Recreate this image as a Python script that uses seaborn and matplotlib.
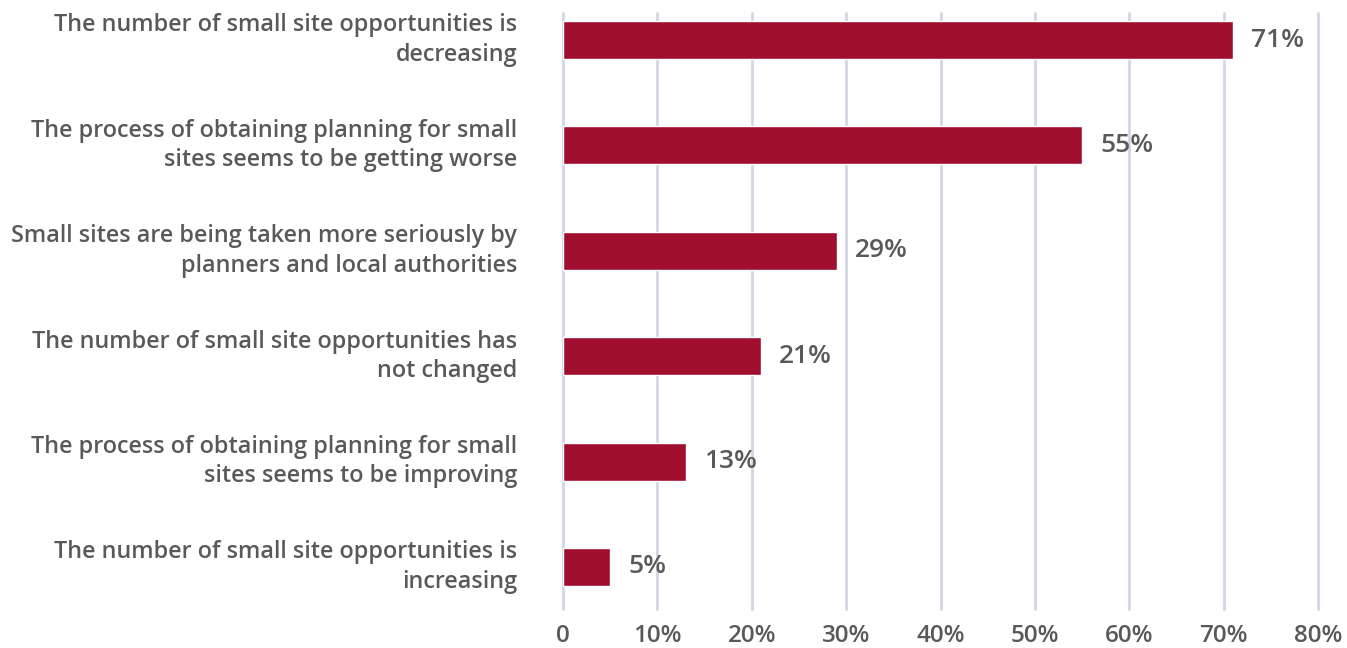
import matplotlib
matplotlib.use("Agg")
import matplotlib.pyplot as plt
import seaborn as sns
import pandas as pd
from matplotlib.ticker import FuncFormatter

categories = [
    "The number of small site opportunities is\ndecreasing",
    "The process of obtaining planning for small\nsites seems to be getting worse",
    "Small sites are being taken more seriously by\nplanners and local authorities",
    "The number of small site opportunities has\nnot changed",
    "The process of obtaining planning for small\nsites seems to be improving",
    "The number of small site opportunities is\nincreasing",
]
values = [71, 55, 29, 21, 13, 5]
x_ticks = [0, 10, 20, 30, 40, 50, 60, 70, 80]

BAR = "#A00F30"
TEXT = "#595959"
GRID = "#D3D5E4"

sns.set_theme(style="white")
plt.rcParams["font.family"] = ["Open Sans", "DejaVu Sans"]

df = pd.DataFrame({"statement": categories, "share": values})

fig = plt.figure(figsize=(13.47, 6.48), dpi=100)
ax = fig.add_axes([0.418, 0.0602, 0.9785 - 0.418, 0.9799 - 0.0602])

sns.barplot(data=df, x="share", y="statement", color=BAR, width=0.36,
            saturation=1, ax=ax, zorder=3)

ax.set_xlim(0, 80)
ax.set_ylim(5 + 42 / 105.4, -27 / 105.4)
ax.set_xticks(x_ticks)
ax.xaxis.set_major_formatter(FuncFormatter(lambda v, p: "0" if v == 0 else f"{v:.0f}%"))
ax.grid(axis="x", color=GRID, linewidth=2, zorder=0)
ax.grid(axis="y", visible=False)
for gl in ax.get_xgridlines():
    gl.set_clip_on(False)
for s in ax.spines.values():
    s.set_visible(False)

ax.set_xlabel("")
ax.set_ylabel("")
ax.tick_params(axis="x", length=0, pad=11, labelsize=17.5, labelcolor=TEXT)
ax.tick_params(axis="y", length=0, pad=33, labelsize=16.8, labelcolor=TEXT)
for lbl in ax.get_yticklabels():
    lbl.set_horizontalalignment("right")
    lbl.set_verticalalignment("center")
    lbl.set_fontweight("semibold")
    lbl.set_linespacing(1.3)
for lbl in ax.get_xticklabels():
    lbl.set_fontweight("semibold")

for i, v in enumerate(values):
    ax.annotate(f"{v}%", xy=(v, i), xytext=(13, 0), textcoords="offset points",
                va="center", ha="left", fontsize=19, color=TEXT,
                fontweight="semibold")

fig.savefig("out.png", dpi=100)
